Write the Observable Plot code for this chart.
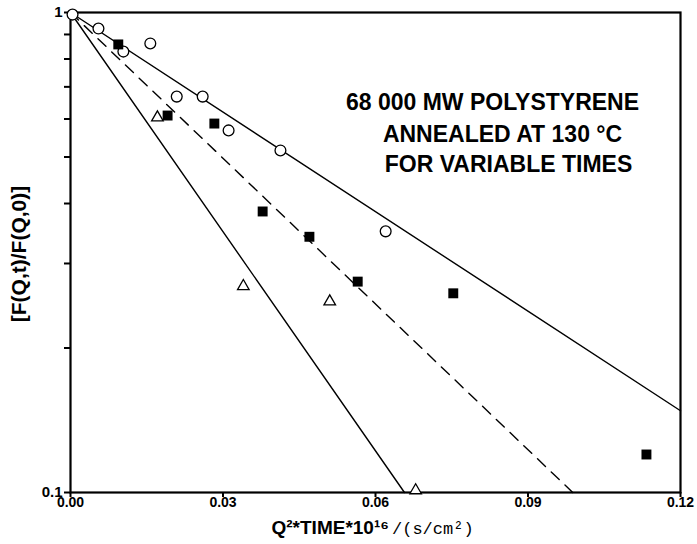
<!DOCTYPE html>
<html>
<head>
<meta charset="utf-8">
<script src="https://cdn.jsdelivr.net/npm/d3@7"></script>
<script src="https://cdn.jsdelivr.net/npm/@observablehq/plot@0.6"></script>
<style>
  html, body { margin: 0; padding: 0; background: #fff; }
  svg { display: block; }
</style>
</head>
<body>
<div id="chart"></div>
<script>
// Open circles
const circleX = [0.0004, 0.0055, 0.0104, 0.0157, 0.0209, 0.0260, 0.0311, 0.0413, 0.0620];
const circleY = [0.99, 0.926, 0.829, 0.862, 0.668, 0.668, 0.568, 0.516, 0.350];
// Filled squares
const squareX = [0.0094, 0.0191, 0.0283, 0.0378, 0.0470, 0.0565, 0.0753, 0.1133];
const squareY = [0.858, 0.610, 0.587, 0.385, 0.341, 0.275, 0.260, 0.120];
// Open triangles
const triX = [0.0171, 0.0340, 0.0510, 0.0679];
const triY = [0.604, 0.269, 0.250, 0.101];
// Fitted lines (end points)
const fitCircleX = [0, 0.12];
const fitCircleY = [1, 0.148];
const fitTriX = [0, 0.0657];
const fitTriY = [1, 0.1];
const fitSquareX = [0, 0.0988];
const fitSquareY = [1, 0.1];
// Ticks
const xTicks = [0, 0.03, 0.06, 0.09, 0.12];
const yTicks = [0.1, 0.2, 0.3, 0.4, 0.5, 0.6, 0.7, 0.8, 0.9, 1];
const yLabeled = {1: "1", 0.1: "0.1"};
const annotation = ["68 000 MW POLYSTYRENE", "ANNEALED AT 130 °C", "FOR VARIABLE TIMES"];
const xLabelMain = "Q²*TIME*10¹⁶";
const xLabelUnit = "/(s/cm²)";
const yLabel = "[F(Q,t)/F(Q,0)]";

const pts = (xs, ys) => xs.map((x, i) => ({x, y: ys[i]}));

const font = "'Liberation Sans', Arial, Helvetica, sans-serif";
const mono = "'Liberation Mono', 'DejaVu Sans Mono', monospace";
const W = 697, H = 544, ML = 70, MR = 17, MT = 12, MB = 52;

const chart = Plot.plot({
  width: W,
  height: H,
  marginLeft: ML,
  marginRight: MR,
  marginTop: MT,
  marginBottom: MB,
  x: {domain: [0, 0.12]},
  y: {type: "log", domain: [0.1, 1]},
  style: {fontFamily: font, background: "#fff", color: "#000"},
  marks: [
    Plot.line(pts(fitCircleX, fitCircleY), {x: "x", y: "y", stroke: "#000", strokeWidth: 1.4}),
    Plot.line(pts(fitTriX, fitTriY), {x: "x", y: "y", stroke: "#000", strokeWidth: 1.4}),
    Plot.line(pts(fitSquareX, fitSquareY), {x: "x", y: "y", stroke: "#000", strokeWidth: 1.4, strokeDasharray: "11,8"}),
    Plot.frame({stroke: "#000", strokeWidth: 2.2}),
    Plot.axisX({ticks: xTicks, tickFormat: d3.format(".2f"), tickSize: 5, tickPadding: 0, fontSize: 14, fontWeight: "bold", label: null, strokeWidth: 2}),
    Plot.axisY({ticks: yTicks, tickFormat: d => yLabeled[d] ?? "", tickSize: 6, tickPadding: 2, fontSize: 15, fontWeight: "bold", label: null, strokeWidth: 2}),
    Plot.dot(pts(circleX, circleY), {x: "x", y: "y", symbol: "circle", r: 5.4, stroke: "#000", fill: "#fff", strokeWidth: 1.3}),
    Plot.dot(pts(squareX, squareY), {x: "x", y: "y", symbol: "square", r: 5.6, fill: "#000", stroke: "none"}),
    Plot.dot(pts(triX, triY), {x: "x", y: "y", symbol: "triangle", r: 4.3, stroke: "#000", fill: "#fff", strokeWidth: 1.3}),
    Plot.text([annotation[0]], {frameAnchor: "top-left", dx: 422, dy: 81, text: d => d, fontSize: 23, fontWeight: "bold", textAnchor: "middle", fill: "#000"}),
    Plot.text([annotation[1]], {frameAnchor: "top-left", dx: 432, dy: 113, text: d => d, fontSize: 23, fontWeight: "bold", textAnchor: "middle", fill: "#000"}),
    Plot.text([annotation[2]], {frameAnchor: "top-left", dx: 438, dy: 143, text: d => d, fontSize: 23, fontWeight: "bold", textAnchor: "middle", fill: "#000"})
  ]
});

const svg = d3.select(chart);

// X axis label: bold part + monospace unit part
svg.append("text")
  .attr("x", 389).attr("y", 534)
  .attr("text-anchor", "end")
  .attr("fill", "#000")
  .style("font-family", font)
  .style("font-size", "19px")
  .style("font-weight", "bold")
  .text(xLabelMain);
svg.append("text")
  .attr("x", 392).attr("y", 534)
  .attr("text-anchor", "start")
  .attr("fill", "#000")
  .style("font-family", mono)
  .style("font-size", "17px")
  .text(xLabelUnit);

// Y axis label
svg.append("text")
  .attr("transform", "translate(26,254) rotate(-90)")
  .attr("text-anchor", "middle")
  .attr("fill", "#000")
  .style("font-family", font)
  .style("font-size", "21px")
  .style("font-weight", "bold")
  .text(yLabel);

document.getElementById("chart").appendChild(chart);
</script>
</body>
</html>
